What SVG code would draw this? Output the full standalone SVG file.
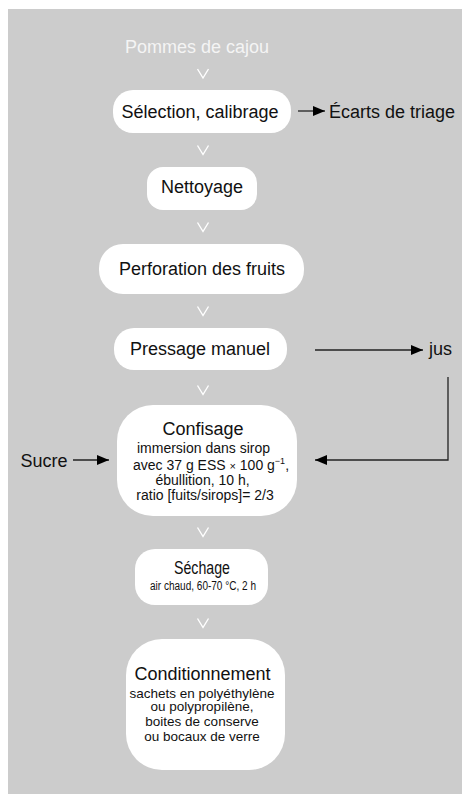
<svg xmlns="http://www.w3.org/2000/svg" width="462" height="794" viewBox="0 0 462 794">
<defs>
<marker id="ah" markerWidth="12" markerHeight="10" refX="12" refY="5" orient="auto" markerUnits="userSpaceOnUse">
<path d="M0,0 L12,5 L0,10 Z" fill="#000"/>
</marker>
<style>
.box{fill:#fff;}
.t{font-family:"Liberation Sans",Arial,sans-serif;fill:#111;text-anchor:middle;}
.big{font-size:18px;}
.small{font-size:13.5px;}
.mid{font-size:14px;}
.chev{fill:none;stroke:#fff;stroke-width:1.4;}
.conn{fill:none;stroke:#222;stroke-width:1.3;}
</style>
</defs>
<rect x="8" y="9" width="454" height="785" fill="#cccccc"/>

<g id="n0">
<text class="t big" x="197" y="53" style="fill:#f4f4f4">Pommes de cajou</text>
</g>
<g id="n1">
<rect class="box" x="113" y="90" width="178" height="43" rx="20"/>
<text class="t big" x="200" y="117.5">Sélection, calibrage</text>
</g>
<g id="n1b">
<text class="t big" x="329" y="117.5" style="text-anchor:start">Écarts de triage</text>
</g>
<g id="n2">
<rect class="box" x="147" y="167" width="110" height="43" rx="16"/>
<text class="t big" x="202" y="192.5">Nettoyage</text>
</g>
<g id="n3">
<rect class="box" x="99" y="244" width="205" height="50" rx="24"/>
<text class="t big" x="202" y="275">Perforation des fruits</text>
</g>
<g id="n4">
<rect class="box" x="114" y="328" width="173" height="42" rx="20"/>
<text class="t big" x="200" y="354.5">Pressage manuel</text>
</g>
<g id="n4b">
<text class="t big" x="429" y="355" style="text-anchor:start">jus</text>
</g>
<g id="n5">
<rect class="box" x="117" y="405" width="180" height="111" rx="36"/>
<text class="t big" x="203" y="435">Confisage</text>
<text class="t mid" x="203.5" y="452.5">immersion dans sirop</text>
<text class="t mid" x="211" y="470">avec 37 g ESS <tspan font-size="11">×</tspan> 100 g<tspan font-size="9" dy="-6">−1</tspan><tspan dy="6">,</tspan></text>
<text class="t mid" x="202.5" y="485">ébullition, 10 h,</text>
<text class="t mid" x="205" y="500">ratio [fuits/sirops]= 2/3</text>
</g>
<g id="n5b">
<text class="t big" x="20.5" y="466.5" style="text-anchor:start">Sucre</text>
</g>
<g id="n6">
<rect class="box" x="135" y="549" width="133" height="56" rx="20"/>
<text class="t" x="202" y="573.5" font-size="17.5" textLength="56" lengthAdjust="spacingAndGlyphs">Séchage</text>
<text class="t" x="203" y="590" font-size="12.5" textLength="106" lengthAdjust="spacingAndGlyphs">air chaud, 60-70 °C, 2 h</text>
</g>
<g id="n7">
<rect class="box" x="126" y="639" width="159" height="131" rx="36"/>
<text class="t big" x="202.5" y="680">Conditionnement</text>
<text class="t small" x="202" y="697.5">sachets en polyéthylène</text>
<text class="t small" x="202" y="711">ou polypropilène,</text>
<text class="t small" x="202" y="726">boites de conserve</text>
<text class="t small" x="202" y="740.5">ou bocaux de verre</text>
</g>

<g id="connectors">
<path class="chev" d="M197.5,69 L203,78 L208.5,69"/>
<path class="chev" d="M197.5,145.5 L203,154.5 L208.5,145.5"/>
<path class="chev" d="M197.5,222.5 L203,231.5 L208.5,222.5"/>
<path class="chev" d="M197.5,306.5 L203,315.5 L208.5,306.5"/>
<path class="chev" d="M197.5,385.5 L203,394.5 L208.5,385.5"/>
<path class="chev" d="M197.5,527.5 L203,536.5 L208.5,527.5"/>
<path class="chev" d="M197.5,618.5 L203,627.5 L208.5,618.5"/>
<path class="conn" d="M298,111 L325,111" marker-end="url(#ah)"/>
<path class="conn" d="M315,350 L423,350" marker-end="url(#ah)"/>
<path class="conn" d="M448,377 L448,460 L315,460" marker-end="url(#ah)"/>
<path class="conn" d="M73,460 L109,460" marker-end="url(#ah)"/>
</g>
</svg>
